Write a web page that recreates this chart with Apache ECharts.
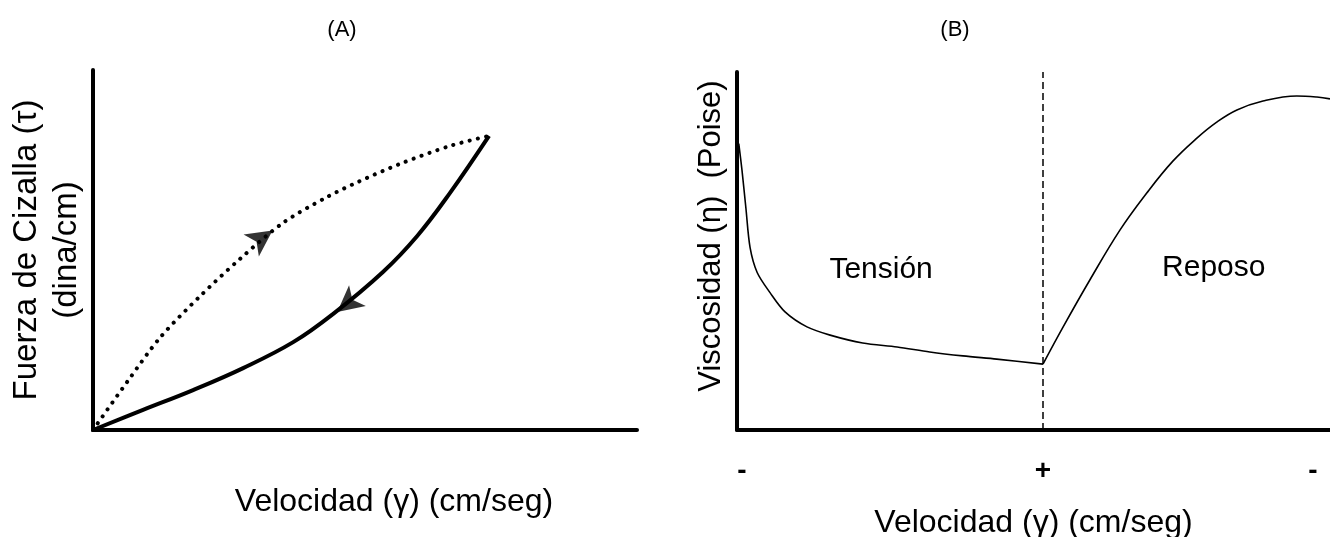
<!DOCTYPE html>
<html><head><meta charset="utf-8">
<script src="https://cdn.jsdelivr.net/npm/echarts@6/dist/echarts.min.js"></script>
<style>html,body{margin:0;padding:0;background:#fff}#c{width:1330px;height:537px}</style>
</head><body><div id="c"></div>
<script>
// Panel A: hysteresis loop (shear stress vs. shear rate)
const loadingCurve = [[0,0],[6.25,13.3],[12.3,25.6],[19.7,37.2],[27.0,47.5],[34.9,57.5],[43.0,64.7],[48.7,68.9],[56.4,73.9],[65.6,78.9],[72.8,81.7]];
const unloadingCurve = [[72.8,81.7],[65.6,65.8],[59.6,53.9],[53.3,43.9],[44.1,32.2],[36.8,24.4],[27.6,17.2],[18.4,11.1],[9.2,5.6],[0,0]];
const arrowUp = [[33.0,55.4]];
const arrowDown = [[44.9,32.8]];
// Panel B: viscosity under tension then at rest
const tensionCurve = [[0.3,80],[0.84,72.6],[1.5,62],[2.2,51],[3.4,44],[5.6,38.3],[8.1,33],[11.8,28.8],[15.7,26.5],[21.2,24.3],[27,23.2],[32.5,21.8],[38.1,20.7],[43.8,19.8],[51.6,18.4]];
const restCurve = [[51.6,18.4],[55.0,28.8],[59.5,41.9],[64.6,55.9],[69.1,66.2],[73.5,75.1],[77.6,81.6],[80.9,86.0],[84.3,89.4],[88.7,91.9],[94.4,93.3],[97.8,93.0],[100,92.5]];
const restPointX = 51.6;
const tickValues = [0.84, 51.6, 97.1];
const tickLabels = ['-', '+', '-'];
const regionLabels = [{name:'Tensión', coord:[24.3,44.7]}, {name:'Reposo', coord:[80.4,45.3]}];

const FONT = 'Liberation Sans, Arial, sans-serif';
const chart = echarts.init(document.getElementById('c'), null, {renderer:'canvas'});
const axisBase = {
  type:'value', min:0, max:100,
  axisLine:{show:true, onZero:false, lineStyle:{color:'#000', width:4}},
  axisTick:{show:false}, axisLabel:{show:false}, splitLine:{show:false}
};
const option = {
  backgroundColor:'#fff',
  animation:false,
  textStyle:{fontFamily:FONT},
  title:[
    {text:'(A)', left:337, top:14, textAlign:'center', textStyle:{fontSize:22, fontWeight:'normal', color:'#000', fontFamily:FONT}},
    {text:'(B)', left:950, top:14, textAlign:'center', textStyle:{fontSize:22, fontWeight:'normal', color:'#000', fontFamily:FONT}}
  ],
  grid:[
    {left:93, top:70, width:544, bottom:107, outerBoundsMode:'none', containLabel:false},
    {left:737, top:72, right:0, bottom:107, outerBoundsMode:'none', containLabel:false}
  ],
  xAxis:[
    Object.assign({}, axisBase, {gridIndex:0, name:'Velocidad (γ) (cm/seg)', nameLocation:'middle', nameGap:56,
      nameTextStyle:{fontSize:32, color:'#000', fontFamily:FONT, padding:[0,0,0,58]}}),
    Object.assign({}, axisBase, {gridIndex:1, name:'Velocidad (γ) (cm/seg)', nameLocation:'middle', nameGap:77,
      nameTextStyle:{fontSize:32, color:'#000', fontFamily:FONT},
      axisLabel:{show:true, customValues:tickValues, margin:27, fontSize:28, fontWeight:'bold', color:'#000', fontFamily:FONT,
        formatter:function(v){let bi=0,bd=1e9;tickValues.forEach((t,i)=>{const d=Math.abs(t-v);if(d<bd){bd=d;bi=i;}});return tickLabels[bi];}}})
  ],
  yAxis:[
    Object.assign({}, axisBase, {gridIndex:0, name:'Fuerza de Cizalla (τ)\n(dina/cm)', nameLocation:'middle', nameRotate:90, nameGap:6,
      nameTextStyle:{fontSize:33, lineHeight:40, color:'#000', fontFamily:FONT}}),
    Object.assign({}, axisBase, {gridIndex:1, name:'Viscosidad (η)  (Poise)', nameLocation:'middle', nameRotate:90, nameGap:10,
      nameTextStyle:{fontSize:31, lineHeight:31, color:'#000', fontFamily:FONT, padding:[0,0,0,30]}})
  ],
  series:[
    {type:'line', xAxisIndex:0, yAxisIndex:0, data:loadingCurve, smooth:0.3, symbol:'none',
      lineStyle:{color:'#000', width:4, type:[0.1,8.3], cap:'round'}},
    {type:'line', xAxisIndex:0, yAxisIndex:0, data:unloadingCurve, smooth:0.4, symbol:'none',
      lineStyle:{color:'#000', width:4}},
    {type:'scatter', xAxisIndex:0, yAxisIndex:0, data:arrowUp, symbol:'arrow', symbolSize:[20,26], symbolRotate:-55,
      itemStyle:{color:'#000'}},
    {type:'scatter', xAxisIndex:0, yAxisIndex:0, data:arrowDown, symbol:'arrow', symbolSize:[20,26], symbolRotate:129,
      itemStyle:{color:'#000'}},
    {type:'line', xAxisIndex:1, yAxisIndex:1, data:tensionCurve, smooth:0.3, symbol:'none',
      lineStyle:{color:'#000', width:1.6},
      markLine:{silent:true, symbol:'none', label:{show:false}, lineStyle:{color:'#000', width:1.5, type:[7,4]},
        data:[{xAxis:restPointX}]},
      markPoint:{symbol:'circle', symbolSize:1, itemStyle:{color:'rgba(0,0,0,0)'},
        label:{show:true, position:'inside', formatter:'{b}', color:'#000', fontSize:30, fontFamily:FONT},
        data:regionLabels}},
    {type:'line', xAxisIndex:1, yAxisIndex:1, data:restCurve, smooth:0.4, symbol:'none',
      lineStyle:{color:'#000', width:1.6}}
  ]
};
chart.setOption(option);
</script></body></html>
